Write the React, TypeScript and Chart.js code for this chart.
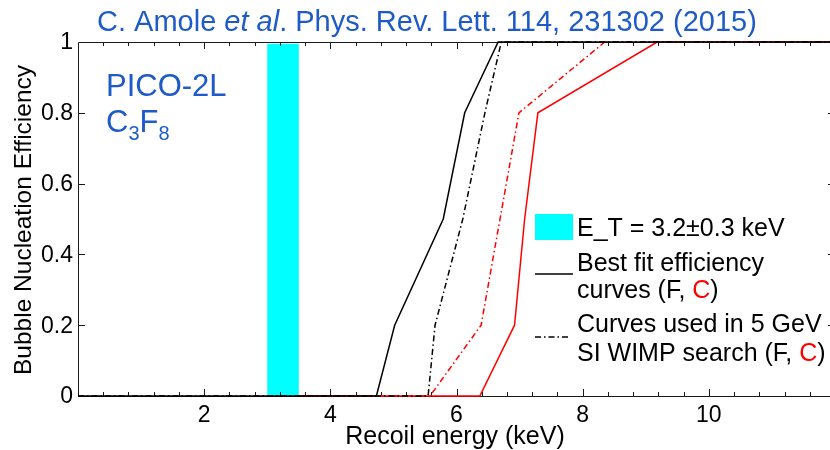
import React, { useEffect, useRef } from "react";
import { Chart, registerables } from "chart.js";

Chart.register(...registerables);

// ---- axis ranges and ticks ----
const xRange = [0, 12];
const yRange = [0, 1];
const xTickLabels = [2, 4, 6, 8, 10];
const xMajorStep = 2;
const xMinorStep = 0.4;
const yTickLabels = [0, 0.2, 0.4, 0.6, 0.8, 1];

// ---- threshold band (keV) ----
const thresholdBand = [3.0, 3.5];

// ---- efficiency curves ----
const bestFitF_x = [0, 4.73, 5.02, 5.79, 6.13, 6.66, 12];
const bestFitF_y = [0, 0, 0.2, 0.5, 0.8, 1, 1];

const wimpF_x = [0, 5.55, 5.66, 6.1, 6.45, 6.71, 12];
const wimpF_y = [0, 0, 0.2, 0.5, 0.8, 1, 1];

const wimpC_x = [3.5, 5.58, 6.39, 6.99, 8.35, 12];
const wimpC_y = [0, 0, 0.2, 0.8, 1, 1];

const bestFitC_x = [3.5, 6.37, 6.92, 7.08, 7.29, 9.18, 12];
const bestFitC_y = [0, 0, 0.2, 0.5, 0.8, 1, 1];

const FONT = '"Liberation Sans", Arial, Helvetica, sans-serif';
const BLUE = "#1f5bc8";
const RED = "#ff0000";
const AXIS = "#1a1a1a";
const DASHDOT = [6, 3, 1.5, 3];

const pts = (xs: number[], ys: number[]) => xs.map((x, i) => ({ x, y: ys[i] }));

function txt(
  ctx: CanvasRenderingContext2D,
  s: string,
  x: number,
  y: number,
  size: number,
  color: string,
  align: CanvasTextAlign = "left",
  baseline: CanvasTextBaseline = "alphabetic",
  style = ""
) {
  ctx.font = `${style} ${size}px ${FONT}`;
  ctx.fillStyle = color;
  ctx.textAlign = align;
  ctx.textBaseline = baseline;
  ctx.fillText(s, x, y);
  return ctx.measureText(s).width;
}

const decorPlugin = {
  id: "decor",
  beforeDatasetsDraw(chart: any) {
    const { ctx, chartArea: a, scales } = chart;
    const xs = scales.x;
    const ys = scales.y;
    ctx.save();
    // cyan threshold band
    ctx.fillStyle = "#00ffff";
    const bx0 = xs.getPixelForValue(thresholdBand[0]);
    const bx1 = xs.getPixelForValue(thresholdBand[1]);
    const by0 = ys.getPixelForValue(0);
    const by1 = ys.getPixelForValue(0.995);
    ctx.fillRect(bx0, by1, bx1 - bx0, by0 - by1);

    // axes box
    ctx.strokeStyle = AXIS;
    ctx.lineWidth = 1;
    ctx.beginPath();
    ctx.rect(Math.round(a.left) + 0.5, Math.round(a.top) + 0.5, Math.round(a.right - a.left), Math.round(a.bottom - a.top));
    ctx.stroke();

    // x ticks (inward, top and bottom)
    ctx.beginPath();
    const n = Math.round((xRange[1] - xRange[0]) / xMinorStep);
    for (let i = 1; i < n; i++) {
      const v = xRange[0] + i * xMinorStep;
      const isMajor = Math.abs(v / xMajorStep - Math.round(v / xMajorStep)) < 1e-6;
      const len = isMajor ? 7 : 4;
      const px = Math.round(xs.getPixelForValue(v)) + 0.5;
      ctx.moveTo(px, a.bottom);
      ctx.lineTo(px, a.bottom - len);
      ctx.moveTo(px, a.top);
      ctx.lineTo(px, a.top + len);
    }
    // y ticks (inward, left and right)
    for (const v of yTickLabels) {
      if (v === yRange[0] || v === yRange[1]) continue;
      const py = Math.round(ys.getPixelForValue(v)) + 0.5;
      ctx.moveTo(a.left, py);
      ctx.lineTo(a.left + 7, py);
      ctx.moveTo(a.right, py);
      ctx.lineTo(a.right - 7, py);
    }
    ctx.stroke();
    ctx.restore();
  },
  afterDraw(chart: any) {
    const { ctx, scales } = chart;
    const xs = scales.x;
    const ys = scales.y;
    ctx.save();

    // tick labels
    for (const v of xTickLabels) {
      txt(ctx, String(v), xs.getPixelForValue(v), 422, 23, "#000", "center");
    }
    for (const v of yTickLabels) {
      txt(ctx, String(v), 73, ys.getPixelForValue(v) + 1, 23, "#000", "right", "middle");
    }

    // axis titles
    txt(ctx, "Recoil energy (keV)", 455, 444, 25, "#000", "center");
    ctx.save();
    ctx.translate(24, 220);
    ctx.rotate(-Math.PI / 2);
    txt(ctx, "Bubble Nucleation Efficiency", 0, 0, 24.5, "#000", "center", "middle");
    ctx.restore();

    // title
    let x = 97;
    const ty = 31;
    const tfs = 29;
    x += txt(ctx, "C. Amole ", x, ty, tfs, BLUE);
    x += txt(ctx, "et al", x, ty, tfs, BLUE, "left", "alphabetic", "italic");
    txt(ctx, ". Phys. Rev. Lett. 114, 231302 (2015)", x, ty, tfs, BLUE);

    // PICO-2L C3F8
    const pfs = 31;
    txt(ctx, "PICO-2L", 106, 96, pfs, BLUE);
    let cx = 106;
    cx += txt(ctx, "C", cx, 132, pfs, BLUE);
    cx += txt(ctx, "3", cx, 140, 20, BLUE);
    cx += txt(ctx, "F", cx, 132, pfs, BLUE);
    txt(ctx, "8", cx, 140, 20, BLUE);

    // legend
    const lx = 535;
    const lw = 38;
    ctx.fillStyle = "#00ffff";
    ctx.fillRect(lx, 214, lw, 26);
    const tx = 577;
    const fs = 25;
    txt(ctx, "E_T = 3.2\u00b10.3 keV", tx, 236, fs, "#000");

    ctx.strokeStyle = "#000";
    ctx.lineWidth = 1.5;
    ctx.beginPath();
    ctx.moveTo(lx, 274);
    ctx.lineTo(lx + lw, 274);
    ctx.stroke();
    txt(ctx, "Best fit efficiency", tx, 271, fs, "#000");
    let x2 = tx;
    x2 += txt(ctx, "curves (F, ", x2, 298, fs, "#000");
    x2 += txt(ctx, "C", x2, 298, fs, RED);
    txt(ctx, ")", x2, 298, fs, "#000");

    ctx.setLineDash(DASHDOT);
    ctx.beginPath();
    ctx.moveTo(lx, 337);
    ctx.lineTo(lx + 36, 337);
    ctx.stroke();
    ctx.setLineDash([]);
    txt(ctx, "Curves used in 5 GeV", tx, 332, fs, "#000");
    let x3 = tx;
    x3 += txt(ctx, "SI WIMP search (F, ", x3, 361, fs, "#000");
    x3 += txt(ctx, "C", x3, 361, fs, RED);
    txt(ctx, ")", x3, 361, fs, "#000");

    ctx.restore();
  },
};

export default function App() {
  const ref = useRef<HTMLCanvasElement | null>(null);
  useEffect(() => {
    if (!ref.current) return;
    const common = { pointRadius: 0, tension: 0, fill: false, borderWidth: 1.5, clip: 3 };
    const chart = new Chart(ref.current, {
      type: "line",
      data: {
        datasets: [
          { ...common, label: "Best fit (F)", data: pts(bestFitF_x, bestFitF_y), borderColor: "#000" },
          { ...common, label: "WIMP search (F)", data: pts(wimpF_x, wimpF_y), borderColor: "#000", borderDash: DASHDOT },
          { ...common, label: "WIMP search (C)", data: pts(wimpC_x, wimpC_y), borderColor: RED, borderDash: DASHDOT },
          { ...common, label: "Best fit (C)", data: pts(bestFitC_x, bestFitC_y), borderColor: RED },
        ],
      } as any,
      options: {
        animation: false,
        responsive: false,
        devicePixelRatio: 1,
        layout: { padding: { left: 78, right: 1, top: 42, bottom: 54 } },
        plugins: { legend: { display: false }, tooltip: { enabled: false }, title: { display: false } },
        scales: {
          x: { type: "linear", min: xRange[0], max: xRange[1], display: false },
          y: { type: "linear", min: yRange[0], max: yRange[1], display: false },
        },
        events: [],
      } as any,
      plugins: [decorPlugin],
    });
    return () => chart.destroy();
  }, []);
  return (
    <div style={{ position: "fixed", left: 0, top: 0, width: 830, height: 450, overflow: "hidden", background: "#fff" }}>
      <canvas ref={ref} width={836} height={450} style={{ display: "block" }} />
    </div>
  );
}
